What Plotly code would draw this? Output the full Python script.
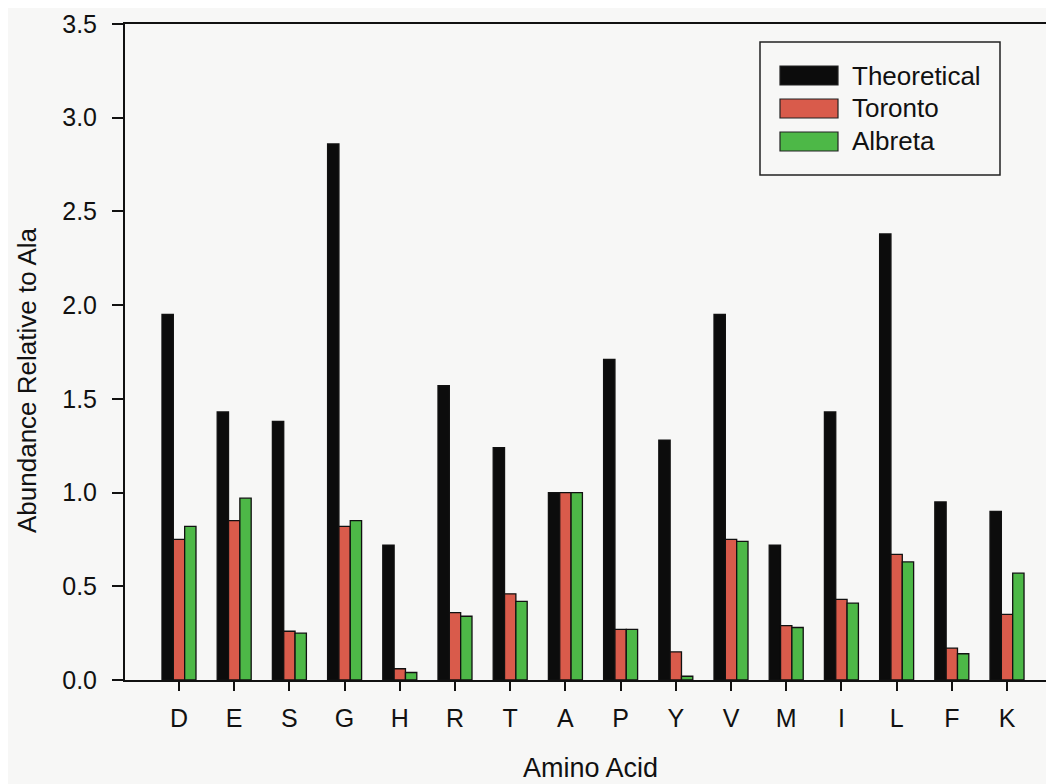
import plotly.graph_objects as go

# ---- data ----
amino_acids = ["D", "E", "S", "G", "H", "R", "T", "A", "P", "Y", "V", "M", "I", "L", "F", "K"]
theoretical = [1.95, 1.43, 1.38, 2.86, 0.72, 1.57, 1.24, 1.00, 1.71, 1.28, 1.95, 0.72, 1.43, 2.38, 0.95, 0.90]
toronto     = [0.75, 0.85, 0.26, 0.82, 0.06, 0.36, 0.46, 1.00, 0.27, 0.15, 0.75, 0.29, 0.43, 0.67, 0.17, 0.35]
albreta     = [0.82, 0.97, 0.25, 0.85, 0.04, 0.34, 0.42, 1.00, 0.27, 0.02, 0.74, 0.28, 0.41, 0.63, 0.14, 0.57]
series_names = ["Theoretical", "Toronto", "Albreta"]
y_ticks = [0.0, 0.5, 1.0, 1.5, 2.0, 2.5, 3.0, 3.5]

# ---- style ----
OFF = 8  # page body margin in the browser
W, H = 1054 - OFF, 784 - OFF
ML, MR, MT, MB = 125 - OFF, 0, 24 - OFF, 104
colors = ["#0c0c0c", "#D95B4B", "#4DB847"]
FONT = "Arial, Liberation Sans, Helvetica, sans-serif"
bg = "#f7f7f6"

pw = W - ML - MR
ph = H - MT - MB
# helpers converting screen pixels (reference image) to paper coords
def px2x(px):
    return (px - OFF - ML) / pw
def py2y(py):
    return (H - MB - (py - OFF)) / ph

fig = go.Figure()
x_idx = list(range(len(amino_acids)))
for name, vals, c in zip(series_names, [theoretical, toronto, albreta], colors):
    fig.add_trace(go.Bar(
        x=x_idx, y=vals, name=name,
        marker=dict(color=c, line=dict(color="#111111", width=1.3)),
        showlegend=False,
    ))

# custom legend (wide swatches like the original)
shapes = [dict(type="rect", xref="paper", yref="paper",
               x0=px2x(760), x1=px2x(1000), y0=py2y(175), y1=py2y(42),
               line=dict(color="#222222", width=1.5), fillcolor=bg, layer="above")]
annotations = []
row_centers = [75.5, 108.5, 141.5]
for name, c, cy in zip(series_names, colors, row_centers):
    shapes.append(dict(type="rect", xref="paper", yref="paper",
                       x0=px2x(780), x1=px2x(838), y0=py2y(cy + 9.5), y1=py2y(cy - 9.5),
                       line=dict(color="#222222", width=1.2), fillcolor=c, layer="above"))
    annotations.append(dict(xref="paper", yref="paper", x=px2x(850), y=py2y(cy),
                            text=name, showarrow=False, xanchor="left", yanchor="middle",
                            font=dict(family=FONT, size=26, color="#111111")))

# axis titles
annotations.append(dict(xref="paper", yref="paper", x=px2x(590), y=py2y(768),
                        text="Amino Acid", showarrow=False, xanchor="center", yanchor="middle",
                        font=dict(family=FONT, size=27, color="#111111")))
annotations.append(dict(xref="paper", yref="paper", x=px2x(27), y=py2y(380),
                        text="Abundance Relative to Ala", showarrow=False, textangle=-90,
                        xanchor="center", yanchor="middle",
                        font=dict(family=FONT, size=26, color="#111111")))

fig.update_layout(
    width=W, height=H,
    margin=dict(l=ML, r=MR, t=MT, b=MB, autoexpand=False),
    paper_bgcolor=bg, plot_bgcolor=bg,
    barmode="group", bargap=0.384, bargroupgap=0,
    font=dict(family=FONT, size=22, color="#111111"),
    shapes=shapes, annotations=annotations,
    showlegend=False,
)
fig.update_xaxes(
    range=[-0.978, 15.851], tickmode="array", tickvals=x_idx, ticktext=amino_acids,
    showgrid=False, zeroline=False, showline=True, linecolor="#111111", linewidth=2,
    mirror=True, ticks="outside", ticklen=9, tickwidth=2, tickcolor="#111111",
    tickfont=dict(family=FONT, size=25, color="#111111"), ticklabelstandoff=6,
)
fig.update_yaxes(
    range=[0, 3.5], tickmode="array", tickvals=y_ticks,
    ticktext=[f"{v:.1f}" for v in y_ticks],
    showgrid=False, zeroline=False, showline=True, linecolor="#111111", linewidth=2,
    ticks="outside", ticklen=11, tickwidth=2, tickcolor="#111111",
    tickfont=dict(family=FONT, size=25, color="#111111"), ticklabelstandoff=10,
)

fig.write_html("out.html")
